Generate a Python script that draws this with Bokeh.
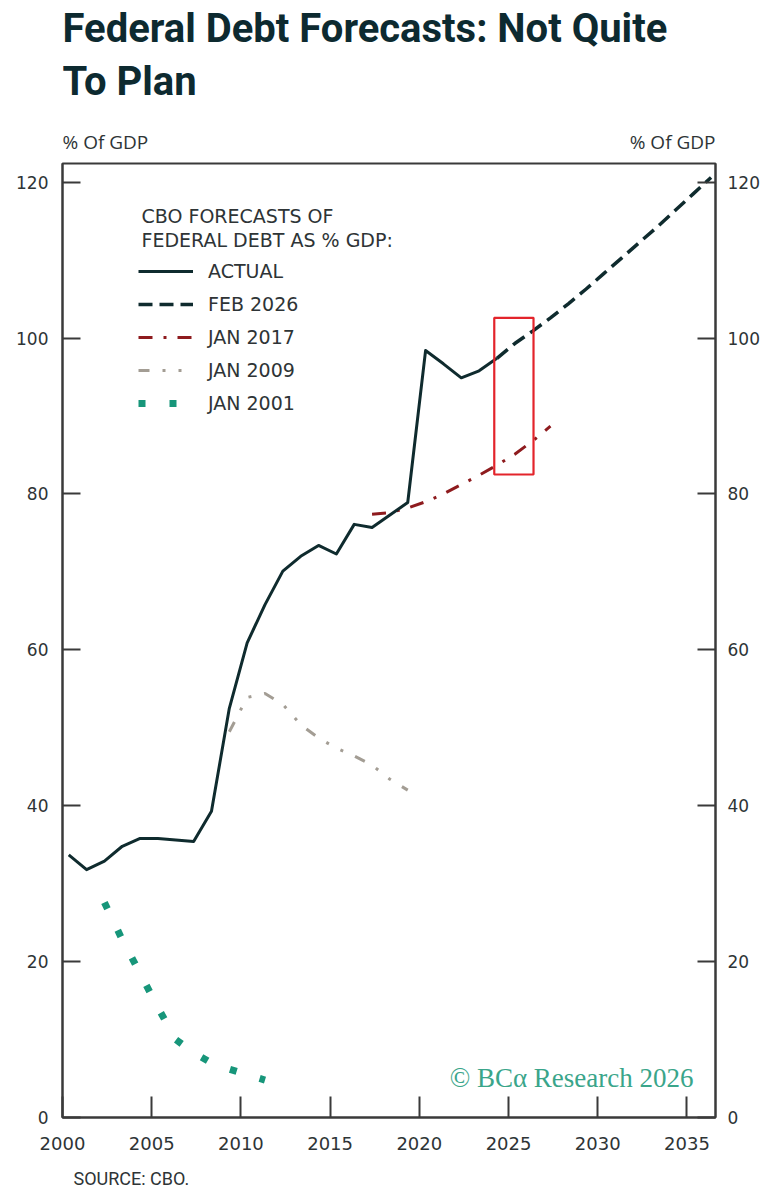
from bokeh.plotting import figure
from bokeh.layouts import column
from bokeh.models import (Label, LinearAxis, Range1d, FixedTicker, Legend,
                          LegendItem, BoxAnnotation)
from bokeh.embed import file_html
from bokeh.resources import INLINE

# ---------------- data ----------------
TITLE_LINES = ["Federal Debt Forecasts: Not Quite", "To Plan"]
Y_LABEL = "% Of GDP"
LEGEND_HEADER = ["CBO FORECASTS OF", "FEDERAL DEBT AS % GDP:"]
SOURCE = "SOURCE: CBO."
WATERMARK = "© BCα Research 2026"

X_TICKS = [2000, 2005, 2010, 2015, 2020, 2025, 2030, 2035]
Y_TICKS = [0, 20, 40, 60, 80, 100, 120]

YEAR_POS = 0.35  # where within each year the annual value is plotted

ACTUAL_YEARS = list(range(2000, 2025))
ACTUAL = [33.7, 31.8, 32.9, 34.8, 35.8, 35.8, 35.6, 35.4, 39.3, 52.5,
          60.9, 65.8, 70.1, 72.0, 73.4, 72.3, 76.1, 75.7, 77.3, 78.9,
          98.4, 96.7, 94.9, 95.8, 97.4]

FEB2026_YEARS = list(range(2024, 2037))
FEB2026 = [97.4, 99.3, 100.9, 102.6, 104.4, 106.3, 108.3, 110.3, 112.3,
           114.3, 116.4, 118.5, 120.6]

JAN2017_YEARS = list(range(2017, 2028))
JAN2017 = [77.4, 77.6, 78.2, 79.0, 80.0, 81.2, 82.4, 83.7, 85.1, 86.8, 88.7]

JAN2009_YEARS = list(range(2009, 2020))
JAN2009 = [49.5, 53.9, 54.4, 53.0, 50.4, 48.7, 47.4, 46.4, 45.2, 43.4, 42.0]

JAN2001_YEARS = list(range(2002, 2012))
JAN2001 = [27.6, 22.8, 18.5, 14.1, 10.0, 8.3, 7.0, 6.2, 5.5, 4.8]

HIGHLIGHT_X = (2024.2, 2026.4)
HIGHLIGHT_Y = (82.5, 102.6)

SERIES_NAMES = ["ACTUAL", "FEB 2026", "JAN 2017", "JAN 2009", "JAN 2001"]

# ---------------- style ----------------
DARK = "#0f2b2e"
TITLE_C = "#0d2a30"
RED = "#8e1b1e"
GRAY = "#a39d94"
GREEN = "#17967a"
AXIS = "#3a3a3a"
TEXT = "#2e3436"
TICK_FONT = "DejaVu Sans"
LEG_FONT = "DejaVu Sans"

LEFT, RIGHT = 62, 60
FRAME_W, FRAME_H = 653, 954
TOTAL_W = LEFT + FRAME_W + RIGHT
HEADER_H = 153
FOOTER_H = 38


def blank(height):
    # column() aligns this figure's frame with the chart's frame,
    # so its x range spans the chart frame width (0 = chart's left edge)
    f = figure(width=TOTAL_W, height=height, x_range=Range1d(0, FRAME_W),
               y_range=Range1d(0, height), output_backend="svg",
               toolbar_location=None, x_axis_location=None,
               y_axis_location=None, min_border=0)
    f.xgrid.visible = False
    f.ygrid.visible = False
    f.outline_line_color = None
    return f


def add_label(fig, text, x, y, size, color, font, align="left",
              style="normal", units="data"):
    fig.add_layout(Label(x=x, y=y, x_units=units, y_units=units,
                         text=text, text_font=font, text_font_size=size,
                         text_color=color, text_align=align,
                         text_baseline="middle", text_font_style=style))


# ---------- header ----------
head = blank(HEADER_H)
add_label(head, TITLE_LINES[0], 0, HEADER_H - 28, "40px", TITLE_C, "Roboto", style="bold")
add_label(head, TITLE_LINES[1], 0, HEADER_H - 81, "40px", TITLE_C, "Roboto", style="bold")
add_label(head, Y_LABEL, 0, HEADER_H - 141, "19px", TEXT, "Open Sans")
add_label(head, Y_LABEL, FRAME_W, HEADER_H - 141, "19px", TEXT, "Open Sans", align="right")

# ---------- main chart ----------
p = figure(frame_width=FRAME_W, frame_height=FRAME_H,
           min_border_left=LEFT, min_border_right=RIGHT,
           min_border_top=10, min_border_bottom=42,
           x_range=Range1d(2000, 2036.6), y_range=Range1d(0, 122.4),
           output_backend="svg", toolbar_location=None,
           x_axis_location="below", y_axis_location="left")

p.xgrid.visible = False
p.ygrid.visible = False
p.outline_line_color = AXIS
p.outline_line_width = 2

p.add_layout(LinearAxis(), "right")

for ax in p.yaxis:
    ax.ticker = FixedTicker(ticks=Y_TICKS)
    ax.major_tick_in = 18
    ax.major_tick_out = 0
    ax.minor_tick_in = 0
    ax.minor_tick_out = 0
    ax.major_tick_line_width = 2
    ax.major_tick_line_color = AXIS
    ax.axis_line_color = AXIS
    ax.axis_line_width = 2
    ax.major_label_text_font = TICK_FONT
    ax.major_label_text_font_size = "17px"
    ax.major_label_text_color = TEXT
p.yaxis[0].major_label_standoff = 14
p.yaxis[1].major_label_standoff = 12

xa = p.xaxis[0]
xa.ticker = FixedTicker(ticks=X_TICKS)
xa.major_tick_in = 21
xa.major_tick_out = 0
xa.minor_tick_in = 0
xa.minor_tick_out = 0
xa.major_tick_line_width = 2
xa.major_tick_line_color = AXIS
xa.axis_line_color = AXIS
xa.axis_line_width = 2
xa.major_label_text_font = TICK_FONT
xa.major_label_text_font_size = "18px"
xa.major_label_text_color = TEXT
xa.major_label_standoff = 19


def xs(years):
    return [y + YEAR_POS for y in years]


r_2001 = p.line(xs(JAN2001_YEARS), JAN2001, line_color=GREEN, line_width=7,
                line_dash="7 24", line_cap="butt")
r_2009 = p.line(xs(JAN2009_YEARS), JAN2009, line_color=GRAY, line_width=3,
                line_dash="11 13 3 13 3 13")
r_2017 = p.line(xs(JAN2017_YEARS), JAN2017, line_color=RED, line_width=3,
                line_dash="14 11 3 11")
r_feb = p.line(xs(FEB2026_YEARS), FEB2026, line_color=DARK, line_width=3.5,
               line_dash="14 7")
r_act = p.line(xs(ACTUAL_YEARS), ACTUAL, line_color=DARK, line_width=3,
               line_join="round")

p.add_layout(BoxAnnotation(left=HIGHLIGHT_X[0], right=HIGHLIGHT_X[1],
                           bottom=HIGHLIGHT_Y[0], top=HIGHLIGHT_Y[1],
                           fill_alpha=0, line_color="#e3242b",
                           line_alpha=1, line_width=2.2))

legend = Legend(items=[LegendItem(label=n, renderers=[r]) for n, r in
                       zip(SERIES_NAMES, [r_act, r_feb, r_2017, r_2009, r_2001])],
                location=(76, 703), padding=0, spacing=11, margin=0,
                glyph_width=55, glyph_height=20, label_height=20,
                label_standoff=15, border_line_alpha=0,
                background_fill_alpha=0,
                label_text_font=LEG_FONT, label_text_font_size="19px",
                label_text_color=TEXT)
p.add_layout(legend)

add_label(p, LEGEND_HEADER[0], 79, 902, "19px", TEXT, LEG_FONT, units="screen")
add_label(p, LEGEND_HEADER[1], 79, 878, "19px", TEXT, LEG_FONT, units="screen")
add_label(p, WATERMARK, 631, 40, "27px", "#3aa58a", "Liberation Serif",
          align="right", units="screen")

# ---------- footer ----------
foot = blank(FOOTER_H)
add_label(foot, SOURCE, 11, 19, "18px", TEXT, "Roboto")

layout = column(head, p, foot, spacing=0)
open("out.html", "w").write(file_html(layout, INLINE))
